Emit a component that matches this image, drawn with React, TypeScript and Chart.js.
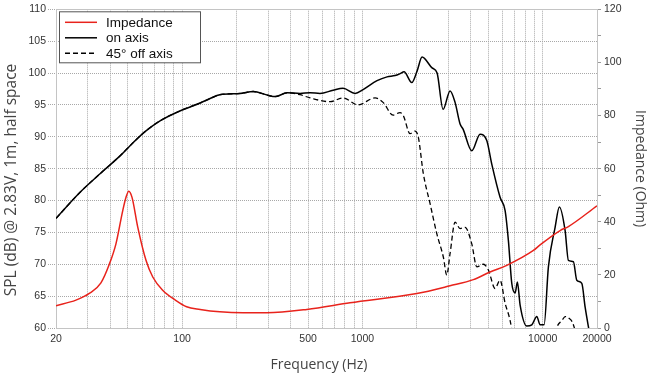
import React, { useEffect, useRef } from 'react';
import { Chart, registerables } from 'chart.js';

Chart.register(...registerables);

// ---- Data ----
const freqOnAxis = [20, 27.2, 35.1, 45.3, 51.5, 62.3, 75.5, 100, 126, 143, 162, 210, 248, 300, 328, 382, 451, 513, 582, 688, 781, 911, 1009, 1206, 1370, 1518, 1618, 1702, 1879, 2010, 2143, 2434, 2596, 2802, 3064, 3266, 3482, 3617, 4042, 4494, 4896, 5218, 5802, 6187, 6452, 6737, 7030, 7238, 7493, 8162, 8700, 9272, 9672, 10178, 10753, 11714, 12374, 13306, 13880, 14796, 15450, 16471, 17180, 17920, 18786];
const splOnAxis = [77.2, 81.3, 84.2, 87.0, 88.6, 90.8, 92.5, 94.2, 95.3, 96.0, 96.6, 96.8, 97.1, 96.5, 96.3, 96.9, 96.8, 96.9, 96.8, 97.3, 97.6, 96.8, 97.4, 98.8, 99.4, 99.6, 99.9, 100.2, 98.5, 100.3, 102.5, 100.8, 100.0, 94.3, 97.2, 95.4, 92.0, 91.2, 87.8, 90.4, 89.4, 85.7, 80.5, 78.4, 73.7, 67.0, 65.5, 67.2, 63.6, 60.3, 60.5, 61.8, 60.5, 60.5, 69.6, 75.8, 79.0, 75.3, 70.6, 70.4, 67.5, 67.0, 63.3, 60.2, 57.0];

const freqOffAxis = [20, 27.2, 35.1, 45.3, 51.5, 62.3, 75.5, 100, 126, 143, 162, 210, 248, 300, 328, 382, 451, 513, 662, 781, 946, 1176, 1302, 1480, 1618, 1688, 1838, 1960, 2044, 2178, 2374, 2586, 2813, 2937, 3064, 3266, 3482, 3711, 4042, 4308, 4688, 4998, 5444, 5802, 6187, 6592, 6850, 7500, 11000, 11563, 12011, 12810, 13306, 13880, 14796, 15311, 16000];
const splOffAxis = [77.2, 81.3, 84.2, 87.0, 88.6, 90.8, 92.5, 94.2, 95.3, 96.0, 96.6, 96.8, 97.1, 96.5, 96.3, 96.9, 96.6, 96.1, 95.5, 96.1, 95.0, 96.1, 95.4, 93.4, 93.8, 93.3, 90.5, 90.9, 89.9, 84.2, 79.5, 74.8, 71.1, 68.3, 71.7, 76.6, 75.6, 75.8, 73.2, 69.6, 70.0, 69.1, 66.2, 67.5, 63.9, 61.2, 58.5, 52, 52, 58.5, 60.2, 61.2, 61.8, 61.6, 60.5, 58.5, 52];

const freqImpedance = [20, 25.8, 30.6, 35.5, 39.5, 43, 46.9, 48.9, 50.6, 52.8, 56.8, 63.1, 68.8, 78.1, 91.8, 106, 126, 162, 218, 295, 492, 854, 2003, 3064, 4126, 5106, 6320, 8882, 9672, 12486, 13880, 20000];
const impedanceOhm = [8.4, 10.5, 13, 17.0, 24, 31.7, 44.2, 49.2, 51.5, 49.2, 38, 25.5, 19.2, 14.2, 10.5, 8, 7, 6.1, 5.75, 5.75, 7, 9.5, 13, 15.9, 18.2, 21.1, 23.6, 29.2, 31.3, 36.7, 38.2, 46];

const xGridTicks = [20, 30, 40, 50, 60, 70, 80, 90, 100, 200, 300, 400, 500, 600, 700, 800, 900, 1000, 2000, 3000, 4000, 5000, 6000, 7000, 8000, 9000, 10000, 20000];
const xLabeledTicks = [20, 100, 500, 1000, 10000, 20000];

const seriesLabels = ['Impedance', 'on axis', '45° off axis'];
const seriesColors = ['#e8231c', '#000000', '#000000'];

const xTitle = 'Frequency (Hz)';
const yTitle = 'SPL (dB) @ 2.83V, 1m, half space';
const y2Title = 'Impedance (Ohm)';

const tickFont = { family: "'Liberation Sans', sans-serif", size: 10.5 };
const titleFamily = "'Open Sans', sans-serif";
const gridColor = '#a8a8a8';
const frameColor = '#c4c4c4';

function pts(xs: number[], ys: number[]) {
  return xs.map((x, i) => ({ x, y: ys[i] }));
}

export default function App() {
  const ref = useRef<HTMLCanvasElement>(null);

  useEffect(() => {
    if (!ref.current) return;

    const framePlugin = {
      id: 'frame',
      beforeDatasetsDraw(chart: any) {
        const { ctx } = chart;
        const { left, top, right, bottom } = chart.chartArea;
        ctx.save();
        ctx.strokeStyle = frameColor;
        ctx.lineWidth = 1;
        ctx.setLineDash([]);
        ctx.strokeRect(Math.round(left) + 0.5, Math.round(top) + 0.5, Math.round(right - left), Math.round(bottom - top));
        ctx.restore();
      },
    };

    const titlesPlugin = {
      id: 'titles',
      afterDraw(chart: any) {
        const { ctx } = chart;
        ctx.save();
        ctx.fillStyle = '#444';
        ctx.textAlign = 'center';
        ctx.textBaseline = 'middle';
        ctx.font = `14px ${titleFamily}`;
        ctx.fillText(xTitle, 319, 365);
        ctx.translate(12, 180);
        ctx.rotate(-Math.PI / 2);
        ctx.font = `15.5px ${titleFamily}`;
        ctx.fillText(yTitle, 0, 0);
        ctx.restore();
      },
    };

    const legendPlugin = {
      id: 'boxLegend',
      afterDraw(chart: any) {
        const { ctx } = chart;
        const { left, top } = chart.chartArea;
        const bx = left + 3.5;
        const by = top + 2.5;
        const bw = 141;
        const bh = 51;
        ctx.save();
        ctx.fillStyle = '#ffffff';
        ctx.fillRect(bx, by, bw, bh);
        ctx.strokeStyle = '#555555';
        ctx.lineWidth = 1;
        ctx.setLineDash([]);
        ctx.strokeRect(bx, by, bw, bh);
        const rows = [13, 28.5, 44];
        chart.data.datasets.forEach((ds: any, i: number) => {
          const y = top + rows[i];
          ctx.strokeStyle = ds.borderColor;
          ctx.lineWidth = 1.5;
          ctx.setLineDash(ds.borderDash || []);
          ctx.beginPath();
          ctx.moveTo(left + 9, y);
          ctx.lineTo(left + 41, y);
          ctx.stroke();
          ctx.setLineDash([]);
          ctx.fillStyle = '#111111';
          ctx.font = "13.5px 'Liberation Sans', sans-serif";
          ctx.textBaseline = 'middle';
          ctx.textAlign = 'left';
          ctx.fillText(ds.label, left + 50, y + 0.5);
        });
        ctx.restore();
      },
    };

    const chart = new Chart(ref.current, {
      type: 'line',
      data: {
        datasets: [
          {
            label: seriesLabels[0],
            data: pts(freqImpedance, impedanceOhm),
            borderColor: seriesColors[0],
            borderWidth: 1.5,
            pointRadius: 0,
            cubicInterpolationMode: 'monotone',
            yAxisID: 'y2',
          },
          {
            label: seriesLabels[1],
            data: pts(freqOnAxis, splOnAxis),
            borderColor: seriesColors[1],
            borderWidth: 1.5,
            pointRadius: 0,
            cubicInterpolationMode: 'monotone',
            yAxisID: 'y',
          },
          {
            label: seriesLabels[2],
            data: pts(freqOffAxis, splOffAxis),
            borderColor: seriesColors[2],
            borderWidth: 1.3,
            borderDash: [5, 3],
            pointRadius: 0,
            cubicInterpolationMode: 'monotone',
            yAxisID: 'y',
          },
        ],
      } as any,
      options: {
        animation: false,
        responsive: false,
        maintainAspectRatio: false,
        layout: { padding: { top: 8 } },
        plugins: { legend: { display: false }, tooltip: { enabled: false } },
        scales: {
          x: {
            type: 'logarithmic',
            min: 20,
            max: 20000,
            afterFit: (s: any) => { s.height = 48; },
            afterBuildTicks: (s: any) => { s.ticks = xGridTicks.map((v) => ({ value: v })); },
            border: { display: false, dash: [1, 1] },
            grid: { color: gridColor, drawTicks: false, lineWidth: 1 },
            ticks: {
              autoSkip: false,
              maxRotation: 0,
              padding: 5,
              color: '#333',
              font: tickFont,
              callback: (v: any) => (xLabeledTicks.includes(Number(v)) ? String(v) : ''),
            },
            title: { display: false, text: xTitle },
          },
          y: {
            position: 'left',
            min: 60,
            max: 110,
            afterFit: (s: any) => { s.width = 56; },
            border: { display: false, dash: [1, 1] },
            grid: { color: gridColor, tickLength: 8, tickBorderDash: [1, 1], tickColor: gridColor },
            ticks: { stepSize: 5, padding: 2, color: '#333', font: tickFont },
            title: { display: false, text: yTitle },
          },
          y2: {
            position: 'right',
            min: 0,
            max: 120,
            afterFit: (s: any) => { s.width = 53; },
            border: { display: false },
            grid: { drawOnChartArea: false, tickLength: 4, color: frameColor, tickColor: '#999' },
            ticks: {
              stepSize: 10,
              padding: 3,
              color: '#333',
              font: tickFont,
              callback: (v: any) => (Number(v) % 20 === 0 ? String(v) : ''),
            },
            title: { display: true, text: y2Title, color: '#444', font: { family: titleFamily, size: 14 }, padding: { top: 2, bottom: 0 } },
          },
        },
      } as any,
      plugins: [framePlugin, titlesPlugin, legendPlugin],
    });

    return () => chart.destroy();
  }, []);

  return (
    <div style={{ position: 'absolute', left: 0, top: 0, width: 650, height: 376, background: '#fff' }}>
      <canvas ref={ref} width={650} height={376} style={{ display: 'block', width: 650, height: 376 }} />
    </div>
  );
}
